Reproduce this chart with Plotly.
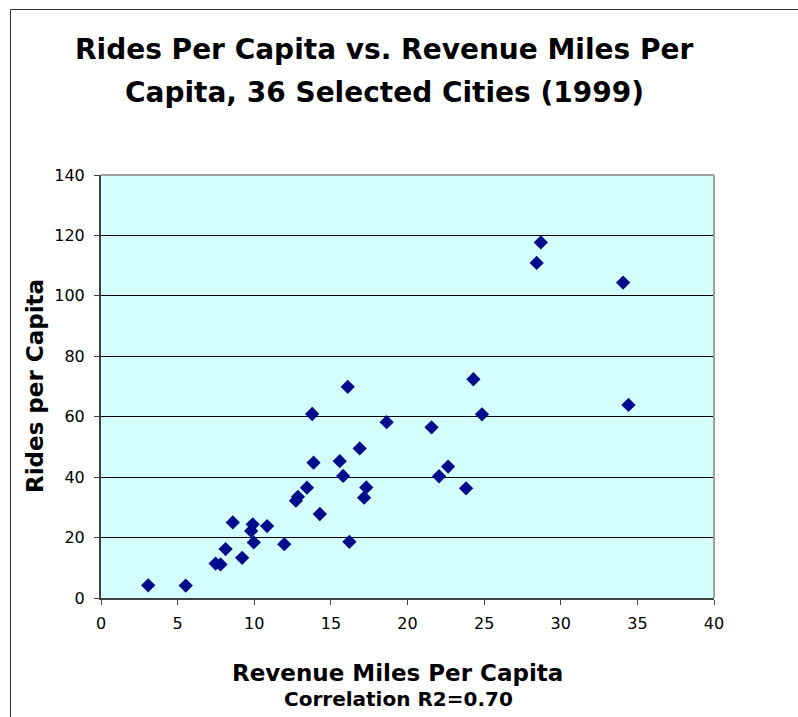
import plotly.graph_objects as go

# Revenue miles per capita (x) and rides per capita (y) for 36 cities, 1999
revenue_miles = [
    3.08, 5.53, 7.48, 7.80, 8.13, 8.60, 9.21, 9.80, 9.90, 9.97,
    10.84, 11.96, 12.72, 12.85, 13.44, 13.78, 13.87, 14.28, 15.58, 15.80,
    16.21, 16.88, 17.17, 17.31, 18.64, 16.10, 28.70, 28.43, 34.07, 24.30,
    34.42, 24.86, 21.57, 22.65, 22.06, 23.82,
]
rides = [
    4.2, 4.1, 11.4, 11.1, 16.2, 25.0, 13.3, 22.2, 24.4, 18.4,
    23.8, 17.8, 32.2, 33.5, 36.5, 60.9, 44.8, 27.8, 45.3, 40.4,
    18.6, 49.5, 33.2, 36.6, 58.2, 69.9, 117.7, 110.9, 104.4, 72.4,
    63.9, 60.8, 56.5, 43.5, 40.3, 36.3,
]

x_ticks = [0, 5, 10, 15, 20, 25, 30, 35, 40]
y_ticks = [0, 20, 40, 60, 80, 100, 120, 140]

title_lines = ["Rides Per Capita vs. Revenue Miles Per", "Capita, 36 Selected Cities (1999)"]
x_title = "Revenue Miles Per Capita"
x_subtitle = "Correlation R2=0.70"
y_title = "Rides per Capita"

FONT = "DejaVu Sans, Verdana, sans-serif"
W, H = 798, 717
ML, MR, MT, MB = 101, 84, 175, 119

fig = go.Figure()
fig.add_trace(go.Scatter(
    x=revenue_miles, y=rides, mode="markers",
    marker=dict(symbol="diamond", size=11, color="#000C8C",
                line=dict(width=0)),
    hoverinfo="x+y", showlegend=False,
))

fig.update_layout(
    width=W, height=H,
    margin=dict(l=ML, r=MR, t=MT, b=MB),
    paper_bgcolor="white",
    plot_bgcolor="#D4FFFF",
    font=dict(family=FONT, size=16, color="black"),
    showlegend=False,
)

fig.update_xaxes(
    range=[0, 40], tickvals=x_ticks, ticktext=[str(v) for v in x_ticks],
    showgrid=False, zeroline=False,
    showline=True, linecolor="#404040", linewidth=2,
    ticks="outside", ticklen=5, tickcolor="#404040", tickwidth=1,
    ticklabelstandoff=5,
    tickfont=dict(family=FONT, size=16, color="black"),
)
fig.update_yaxes(
    range=[0, 140], tickvals=y_ticks, ticktext=[str(v) for v in y_ticks],
    showgrid=True, gridcolor="black", gridwidth=1, zeroline=False,
    showline=True, linecolor="#404040", linewidth=2,
    ticks="outside", ticklen=5, tickcolor="#404040", tickwidth=1,
    ticklabelstandoff=6,
    tickfont=dict(family=FONT, size=16, color="black"),
)

# grey top and right edges of the plot area
fig.add_shape(type="line", xref="x domain", yref="y domain", x0=0, x1=1, y0=1, y1=1,
              line=dict(color="#A0A0A0", width=2), layer="above")
fig.add_shape(type="line", xref="x domain", yref="y domain", x0=1, x1=1, y0=0, y1=1,
              line=dict(color="#A0A0A0", width=2), layer="above")

# outer chart frame (left and top edges)
pw, ph = W - ML - MR, H - MT - MB
def px_to_paper_x(px):
    return (px - ML) / pw
def px_to_paper_y(py):
    return (H - MB - py) / ph

fig.add_shape(type="line", xref="paper", yref="paper",
              x0=px_to_paper_x(10.5), x1=px_to_paper_x(10.5),
              y0=px_to_paper_y(9.5), y1=px_to_paper_y(717),
              line=dict(color="#303030", width=1))
fig.add_shape(type="line", xref="paper", yref="paper",
              x0=px_to_paper_x(10.5), x1=px_to_paper_x(798),
              y0=px_to_paper_y(9.5), y1=px_to_paper_y(9.5),
              line=dict(color="#303030", width=1))

def label(text, cx, cy, size, angle=0):
    fig.add_annotation(text=text, xref="paper", yref="paper",
                       x=px_to_paper_x(cx), y=px_to_paper_y(cy),
                       xanchor="center", yanchor="middle", showarrow=False,
                       textangle=angle,
                       font=dict(family=FONT, size=size, color="black", weight="bold"))

label(title_lines[0], 384, 50, 28)
label(title_lines[1], 384, 93, 28)
label(x_title, 397, 673, 23)
label(x_subtitle, 398, 699, 20)
label(y_title, 35, 386, 23, angle=-90)

fig.write_html("out.html")
